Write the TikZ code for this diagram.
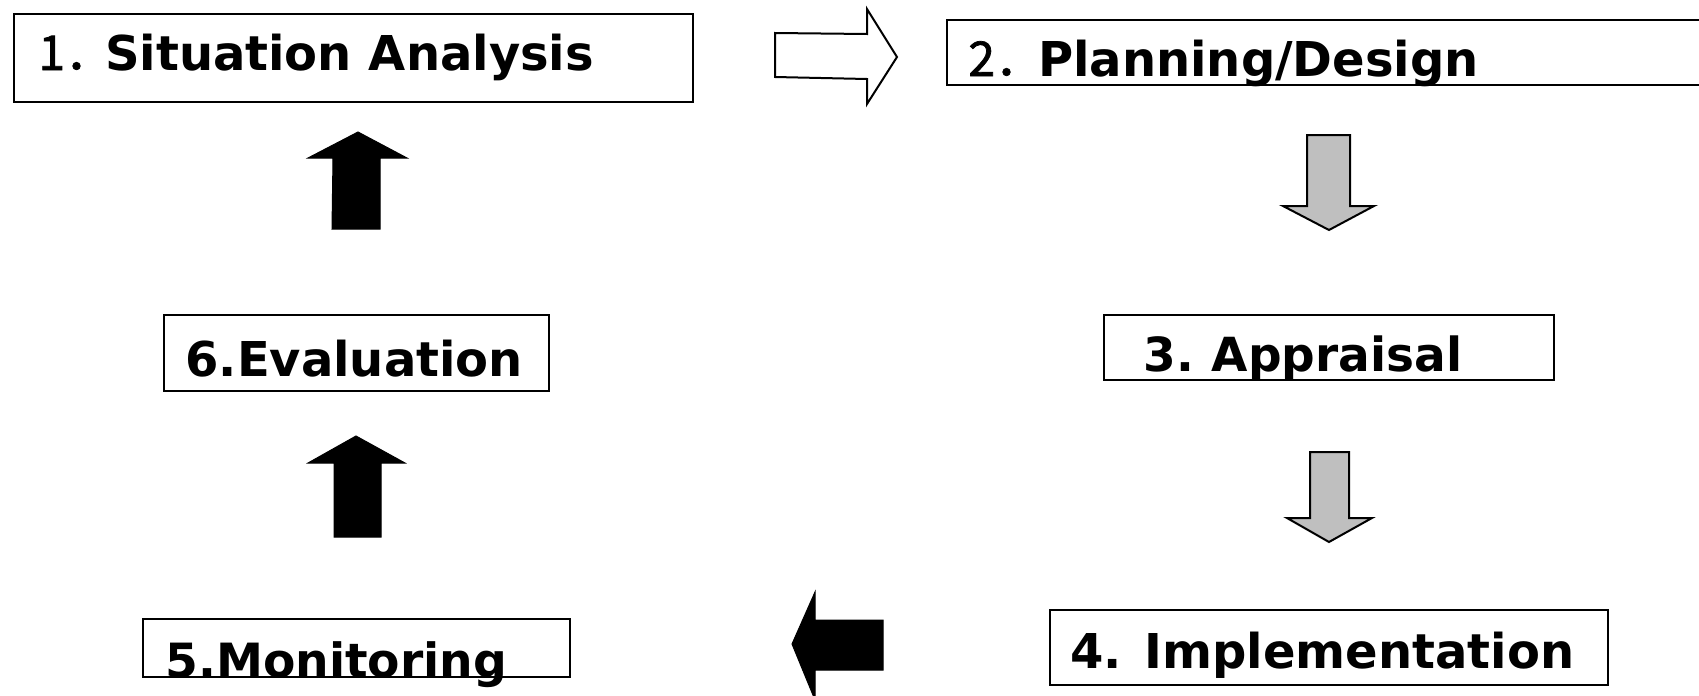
\documentclass[tikz,border=0pt]{standalone}
\usepackage{fontspec}
\setmainfont{DejaVu Sans}
\newfontfamily\cjk{Noto Sans CJK SC}[AutoFakeBold=1.5]
\usetikzlibrary{fit}

\tikzset{
  box/.style={draw,line width=1.2pt,inner sep=0pt},
  lbl/.style={anchor=base west,inner sep=0pt,font=\bfseries\fontsize{24}{28}\selectfont},
  blackarrow/.style={fill=black,draw=black,line width=0.5pt,line join=miter},
  grayarrow/.style={fill=gray!50,draw=black,line width=1pt,line join=miter},
  hollowarrow/.style={fill=white,draw=black,line width=1pt,line join=miter}
}

\begin{document}
\begin{tikzpicture}[x=0.5pt,y=-0.5pt]
	%\draw[blue] (0,0) grid[step=100] (1699,696);
	\useasboundingbox (0,0) rectangle (1699,696);
	\clip (0,0) rectangle (1699,696);

	% boxes
	\node [box,fit={(14,14) (693,102)}] (s1) {};
	\node [box,fit={(947,20) (1720,85)}] (s2) {};
	\node [box,fit={(1104,315) (1554,380)}] (s3) {};
	\node [box,fit={(1050,610) (1608,685)}] (s4) {};
	\node [box,fit={(143,619) (570,677)}] (s5) {};
	\node [box,fit={(164,315) (549,391)}] (s6) {};

	% texts
	\node [lbl] (t1) at (38,70) {{\cjk 1．}\kern-4pt Situation Analysis};
	\node [lbl] (t2) at (968,76) {{\cjk 2．}\kern-2.5pt Planning/Design};
	\node [lbl,font=\bfseries\fontsize{23.5}{28}\selectfont] (t3) at (1143,371) {3.\kern-2pt{} Appraisal};
	\node [lbl] (t4) at (1070,668) {4. Implementation};
	\node [lbl,font=\bfseries\fontsize{23.6}{28}\selectfont] (t5) at (165,677) {5.Monitoring};
	\node [lbl] (t6) at (185,376) {6.Evaluation};

	% arrows
	\draw [hollowarrow] (775,33) -- (867,34) -- (867,9) -- (897,57) -- (867,104) -- (867,79) -- (775,77) -- cycle;
	\draw [grayarrow] (1307,135) -- (1350,135) -- (1350,206) -- (1374,206) -- (1329,230) -- (1283,206) -- (1307,206) -- cycle;
	\draw [grayarrow] (1310,452) -- (1349,452) -- (1349,518) -- (1372,518) -- (1329,542) -- (1287,518) -- (1310,518) -- cycle;
	\draw [blackarrow] (883,620) -- (815,620) -- (815,592) -- (792,644) -- (815,700) -- (815,670) -- (883,670) -- cycle;
	\draw [blackarrow] (332,229) -- (333,158) -- (308,158) -- (358,132) -- (407,158) -- (380,158) -- (380,229) -- cycle;
	\draw [blackarrow] (334,537) -- (334,463) -- (308,463) -- (356,436) -- (405,463) -- (381,463) -- (381,537) -- cycle;

\end{tikzpicture}
\end{document}
